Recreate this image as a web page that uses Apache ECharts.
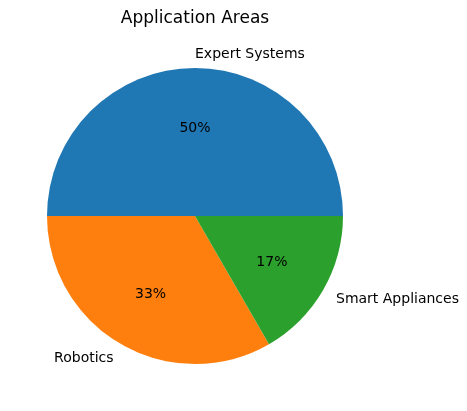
<!DOCTYPE html>
<html>
<head>
<meta charset="utf-8">
<script src="https://cdn.jsdelivr.net/npm/echarts@6/dist/echarts.min.js"></script>
<style>
html, body { margin: 0; padding: 0; background: #fff; }
#chart { width: 467px; height: 411px; }
</style>
</head>
<body>
<div id="chart"></div>
<script>
'use strict';

var chartTitle = 'Application Areas';
var categories = ['Expert Systems', 'Robotics', 'Smart Appliances'];
var values = [3, 2, 1];
var colors = ['#1f77b4', '#ff7f0e', '#2ca02c'];

var center = [195, 216];
var radius = 148;
var font = 'DejaVu Sans';

function pieData(transparent) {
    var data = [];
    for (var i = 0; i < categories.length; i++) {
        data.push({
            name: categories[i],
            value: values[i],
            itemStyle: { color: transparent ? 'rgba(0,0,0,0)' : colors[i] }
        });
    }
    return data;
}

// mid angle of each slice, counter-clockwise from east (matplotlib style)
function midAngle(index) {
    var total = 0, before = 0;
    for (var i = 0; i < values.length; i++) {
        total += values[i];
        if (i < index) before += values[i];
    }
    return (before + values[index] / 2) / total * 2 * Math.PI;
}

// place a label at dist * radius along the slice's mid angle
function placeLabel(dist, sideAlign) {
    return function(p) {
        var a = midAngle(p.dataIndex);
        var c = Math.cos(a);
        var align = 'center';
        if (sideAlign) align = c >= -1e-9 ? 'left' : 'right';
        return {
            x: center[0] + dist * radius * c,
            y: center[1] - dist * radius * Math.sin(a) + 1.5,
            align: align,
            verticalAlign: 'middle'
        };
    };
}

var base = {
    type: 'pie',
    center: center,
    radius: [0, radius],
    startAngle: 0,
    clockwise: false,
    avoidLabelOverlap: false,
    animation: false,
    silent: true,
    percentPrecision: 0,
    itemStyle: { borderWidth: 0 },
    labelLine: { show: false },
    emphasis: { disabled: true }
};

var chart = echarts.init(document.getElementById('chart'));
chart.setOption({
    title: {
        text: chartTitle,
        left: center[0],
        top: 10,
        padding: 0,
        textAlign: 'center',
        textStyle: { fontFamily: font, fontSize: 17, fontWeight: 'normal', color: '#000' }
    },
    series: [
        Object.assign({}, base, {
            label: {
                show: true, position: 'inside', formatter: '{d}%',
                fontFamily: font, fontSize: 14, color: '#000'
            },
            labelLayout: placeLabel(0.6, false),
            data: pieData(false)
        }),
        Object.assign({}, base, {
            label: {
                show: true, position: 'inside', formatter: '{b}',
                fontFamily: font, fontSize: 14, color: '#000'
            },
            labelLayout: placeLabel(1.1, true),
            data: pieData(true)
        })
    ]
});
</script>
</body>
</html>
